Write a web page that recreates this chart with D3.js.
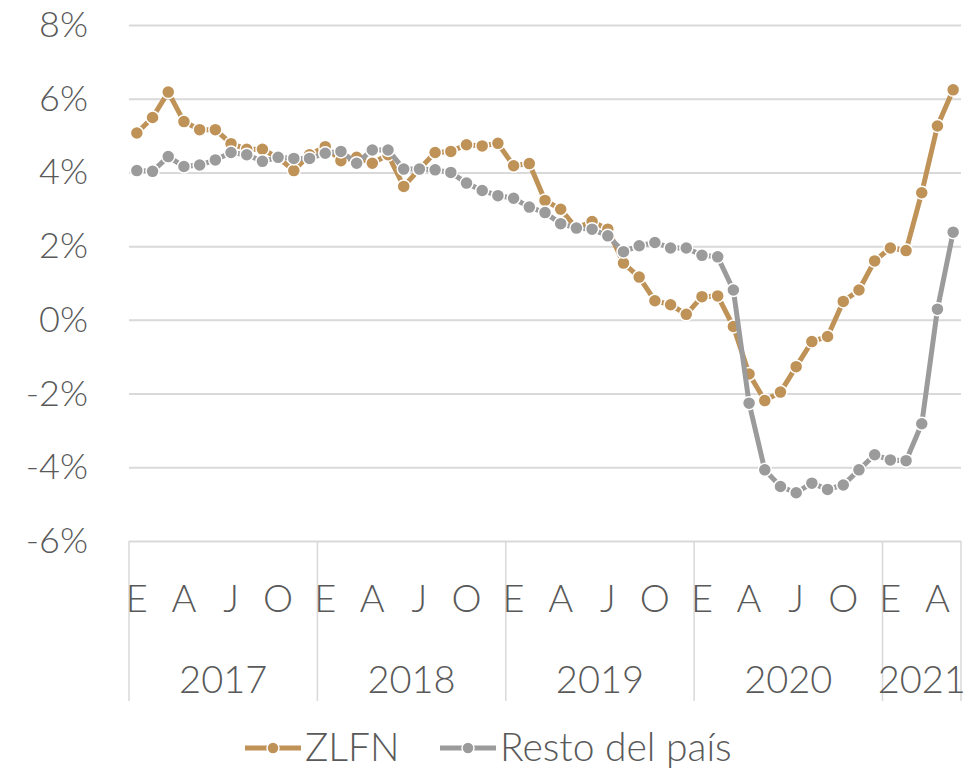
<!DOCTYPE html>
<html>
<head>
<meta charset="utf-8">
<script src="https://cdn.jsdelivr.net/npm/d3@7"></script>
<style>
  body { margin: 0; background: #fff; }
  text { font-family: "Lato", "Open Sans", sans-serif; font-weight: 300; fill: #595959; }
</style>
</head>
<body>
<script>
// monthly growth, Jan 2017 - May 2021
var zlfn = [
  5.07, 5.49, 6.18, 5.38, 5.16, 5.16, 4.78, 4.63, 4.63, 4.40, 4.05, 4.48,
  4.70, 4.32, 4.41, 4.25, 4.48, 3.62, 4.09, 4.54, 4.57, 4.75, 4.72, 4.79,
  4.18, 4.24, 3.24, 3.00, 2.49, 2.67, 2.46, 1.54, 1.16, 0.52, 0.41, 0.15,
  0.63, 0.65, -0.18, -1.47, -2.19, -1.96, -1.27, -0.59, -0.45, 0.50, 0.81, 1.60,
  1.95, 1.88, 3.45, 5.26, 6.24
];
var resto = [
  4.05, 4.03, 4.43, 4.16, 4.20, 4.34, 4.54, 4.48, 4.30, 4.41, 4.38, 4.38,
  4.52, 4.57, 4.25, 4.61, 4.61, 4.09, 4.09, 4.07, 4.00, 3.71, 3.51, 3.37,
  3.30, 3.06, 2.91, 2.61, 2.49, 2.46, 2.28, 1.85, 2.01, 2.10, 1.95, 1.95,
  1.75, 1.71, 0.81, -2.26, -4.07, -4.52, -4.69, -4.43, -4.60, -4.48, -4.07, -3.66,
  -3.80, -3.82, -2.82, 0.29, 2.38
];
var years = ["2017", "2018", "2019", "2020", "2021"];
var monthsPerYear = [12, 12, 12, 12, 5];
var monthLabels = ["E", "A", "J", "O"];
var yTicks = [-6, -4, -2, 0, 2, 4, 6, 8];

var width = 979, height = 768;
var plotLeft = 129, plotRight = 961, plotTop = 25, plotBottom = 541;
var gold = "#BF9257", grey = "#9B9B9B";

var svg = d3.select("body").append("svg")
  .attr("width", width)
  .attr("height", height);

var x = d3.scaleLinear().domain([0, zlfn.length]).range([plotLeft, plotRight]);
var y = d3.scaleLinear().domain([-6, 8]).range([plotBottom, plotTop]);

// gridlines + y labels
var yAxis = d3.axisLeft(y)
  .tickValues(yTicks)
  .tickSize(-(plotRight - plotLeft))
  .tickPadding(41)
  .tickFormat(function (d) { return d + "%"; });

var gy = svg.append("g")
  .attr("transform", "translate(" + plotLeft + ",0)")
  .call(yAxis);
gy.select(".domain").remove();
gy.selectAll("line").attr("stroke", "#D9D9D9").attr("stroke-width", 2);
gy.selectAll("text")
  .attr("fill", "#595959")
  .attr("font-family", null)
  .attr("font-size", null)
  .style("font-size", "36px");

// year separators and labels
var start = 0, bounds = [0];
monthsPerYear.forEach(function (n) { start += n; bounds.push(start); });

svg.selectAll(".sep")
  .data(bounds)
  .enter().append("line")
  .attr("class", "sep")
  .attr("x1", function (d) { return x(d); })
  .attr("x2", function (d) { return x(d); })
  .attr("y1", plotBottom)
  .attr("y2", 701)
  .attr("stroke", "#D9D9D9")
  .attr("stroke-width", 1.5);

svg.selectAll(".year")
  .data(years)
  .enter().append("text")
  .attr("class", "year")
  .attr("x", function (d, i) { return (x(bounds[i]) + x(bounds[i + 1])) / 2; })
  .attr("y", 693)
  .attr("text-anchor", "middle")
  .style("font-size", "38px")
  .text(function (d) { return d; });

// month labels every 3 months
var monthTicks = [];
for (var i = 0; i < zlfn.length; i += 3) monthTicks.push(i);

svg.selectAll(".month")
  .data(monthTicks)
  .enter().append("text")
  .attr("class", "month")
  .attr("x", function (d) { return x(d + 0.5); })
  .attr("y", 612)
  .attr("text-anchor", "middle")
  .style("font-size", "38px")
  .text(function (d) { return monthLabels[(d % 12) / 3]; });

// series
var line = d3.line()
  .x(function (d, i) { return x(i + 0.5); })
  .y(function (d) { return y(d); });

function drawSeries(data, color) {
  svg.append("path")
    .datum(data)
    .attr("fill", "none")
    .attr("stroke", color)
    .attr("stroke-width", 5)
    .attr("stroke-linejoin", "round")
    .attr("d", line);

  svg.append("g").selectAll("circle")
    .data(data)
    .enter().append("circle")
    .attr("cx", function (d, i) { return x(i + 0.5); })
    .attr("cy", function (d) { return y(d); })
    .attr("r", 6.5)
    .attr("fill", color)
    .attr("stroke", "#fff")
    .attr("stroke-width", 1.5);
}

drawSeries(zlfn, gold);
drawSeries(resto, grey);

// legend
var legend = [
  { name: "ZLFN", color: gold, x: 245 },
  { name: "Resto del país", color: grey, x: 440 }
];
var lg = svg.selectAll(".legend")
  .data(legend)
  .enter().append("g")
  .attr("class", "legend")
  .attr("transform", function (d) { return "translate(" + d.x + ",748)"; });

lg.append("line")
  .attr("x1", 0).attr("x2", 56)
  .attr("stroke", function (d) { return d.color; })
  .attr("stroke-width", 5);
lg.append("circle")
  .attr("cx", 28).attr("r", 6)
  .attr("fill", function (d) { return d.color; })
  .attr("stroke", "#fff")
  .attr("stroke-width", 1.5);
lg.append("text")
  .attr("x", 60)
  .attr("y", 13)
  .style("font-size", "39px")
  .text(function (d) { return d.name; });
</script>
</body>
</html>
